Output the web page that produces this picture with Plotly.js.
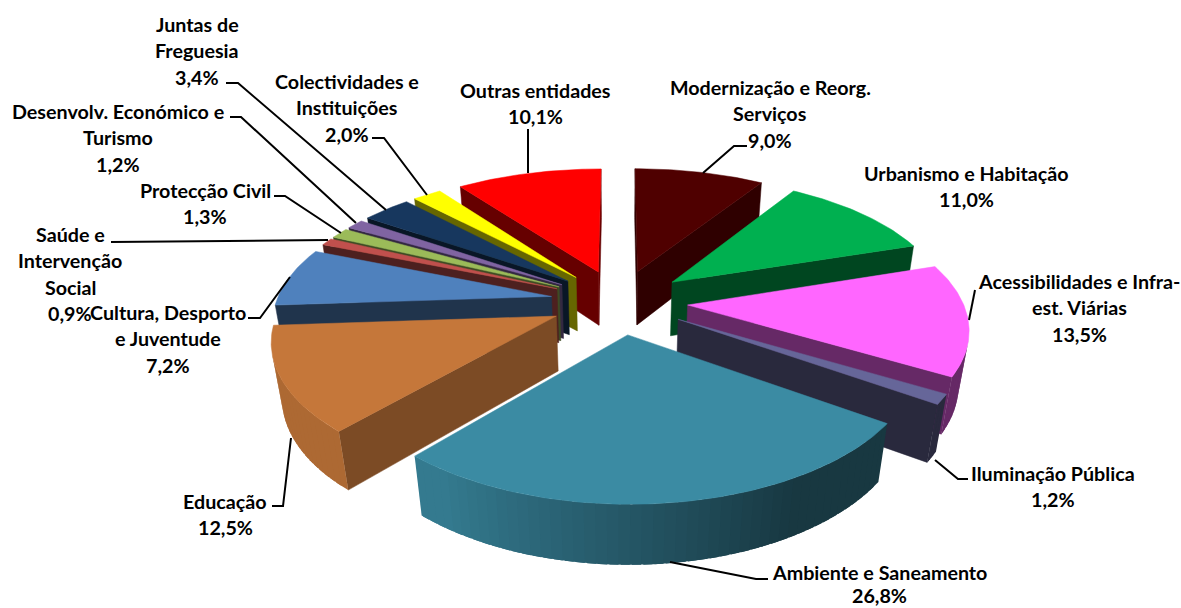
<!DOCTYPE html>
<html><head><meta charset="utf-8">
<script src="https://cdn.plot.ly/plotly-3.0.1.min.js"></script>
<style>html,body{margin:0;padding:0;background:#fff}#c{width:1181px;height:608px}</style>
</head><body><div id="c"></div>
<script>
// ---- data ----
const labelLines = [
 ["Modernização e Reorg.","Serviços"],
 ["Urbanismo e Habitação"],
 ["Acessibilidades e Infra-","est. Viárias"],
 ["Iluminação Pública"],
 ["Ambiente e Saneamento"],
 ["Educação"],
 ["Cultura, Desporto","e Juventude"],
 ["Saúde e","Intervenção","Social"],
 ["Protecção Civil"],
 ["Desenvolv. Económico e","Turismo"],
 ["Juntas de","Freguesia"],
 ["Colectividades e","Instituições"],
 ["Outras entidades"]
];
const values = [9.0,11.0,13.5,1.2,26.8,12.5,7.2,0.9,1.3,1.2,3.4,2.0,10.1];
// ---- styles ----
const colors = ["#4f0000","#00b050","#ff66ff","#666699","#3b8ba3","#c5773a","#4f81bd","#c0504d","#9bbb59","#8064a2","#17375e","#ffff00","#ff0000"];
const wallShade = [0.6,0.4,0.4,0.4,0.4,0.63,0.4,0.4,0.4,0.4,0.4,0.4,0.4];
const labelX = [770,966,1079,1053,879,225,168,70,205,118,197,347,535];
const labelY = [87,173,281,473,572,501,312,234,190,111,24,81,90];
const labelStep = 26.5;
const labelMaxY = 595;
const leaders = [
 [[747,146],[734,146],[703,173]],
 [],
 [[975,290],[969,320]],
 [[968,479],[958,479],[935,460]],
 [[768,579],[756,579],[670,562]],
 [[272,506],[283,506],[291,438]],
 [[248,318],[260,318],[290,277]],
 [[111,242],[328,240]],
 [[274,196],[285,196],[341,233]],
 [[230,117],[241,117],[356,223]],
 [[226,83],[238,83],[386,210]],
 [[372,138],[384,138],[427,195]],
 [[528,129],[528,173]]
];
// projection of the exploded pie
const CX=619, CY=301.5, A=275, B=129, D=56, K=0.165, KX=0.155, M=0.03, E=0.25;
function P(X,Y,Z){return [CX+A*X/(1+KX*Y+M*Z), CY+(-B*Y+D*Z)/(1+K*Y+M*Z)];}
function shade(hex,f){const n=parseInt(hex.slice(1),16);
 const c=[n>>16&255,n>>8&255,n&255].map(v=>Math.round(v*f));
 return `rgb(${c[0]},${c[1]},${c[2]})`;}
const traces=[];
function poly(pts,color,lw){
 const x=pts.map(p=>p[0]),y=pts.map(p=>p[1]);x.push(x[0]);y.push(y[0]);
 traces.push({type:'scatter',mode:'lines',x,y,fill:'toself',fillcolor:color,
  line:{color,width:lw},hoverinfo:'skip',showlegend:false});
}
function area(pts){let s=0;for(let i=0;i<pts.length;i++){const a=pts[i],b=pts[(i+1)%pts.length];s+=a[0]*b[1]-b[0]*a[1];}return s;}
const total=values.reduce((a,b)=>a+b,0);
let cum=0;const slices=values.map((v,i)=>{const a0=cum/total*2*Math.PI;cum+=v;const a1=cum/total*2*Math.PI;return {i,a0,a1,mid:(a0+a1)/2};});
const order=slices.slice().sort((p,q)=>Math.cos(q.mid)-Math.cos(p.mid));
function outerShade(a){const d=a*180/Math.PI;return Math.max(0.4,Math.min(0.88,0.4+(d-150)/(215-150)*0.48));}
order.forEach(s=>{
 const col=colors[s.i], ox=E*Math.sin(s.mid), oy=E*Math.cos(s.mid), ws=wallShade[s.i];
 const pt=(a,z)=>P(ox+Math.sin(a),oy+Math.cos(a),z);
 const ap=z=>P(ox,oy,z);
 const w0=[ap(0),ap(1),pt(s.a0,1),pt(s.a0,0)];
 if(area(w0)>0) poly(w0,shade(col,ws),0.5);
 const w1=[ap(0),pt(s.a1,0),pt(s.a1,1),ap(1)];
 if(area(w1)>0) poly(w1,shade(col,ws),0.5);
 const n=Math.max(2,Math.ceil((s.a1-s.a0)/(2*Math.PI/180)));
 const da=(s.a1-s.a0)/n;
 for(let j=0;j<n;j++){
  const a=s.a0+da*j,b=s.a0+da*(j+1),bb=Math.min(s.a1,b+da*0.8);
  const q=[pt(a,0),pt(bb,0),pt(bb,1),pt(a,1)];
  if(area(q)<0) poly(q,shade(col,outerShade((a+b)/2)),0);
 }
 const top=[ap(0)];for(let j=0;j<=n*2;j++){top.push(pt(s.a0+(s.a1-s.a0)*j/(n*2),0));}
 poly(top,col,0.5);
});
// leader lines
leaders.forEach(l=>{ if(l.length) traces.push({type:'scatter',mode:'lines',x:l.map(p=>p[0]),y:l.map(p=>p[1]),
  line:{color:'#000',width:2},hoverinfo:'skip',showlegend:false});});
// labels
const annotations=[];
const pct=v=>v.toFixed(1).replace('.',',')+'%';
labelLines.forEach((lines,i)=>{
 lines.concat([pct(values[i])]).forEach((t,j)=>{
  annotations.push({x:labelX[i],y:Math.min(labelMaxY,labelY[i]+j*labelStep),xref:'x',yref:'y',text:t,showarrow:false,
   xanchor:'center',yanchor:'middle',font:{family:'Lato, sans-serif',size:19.7,color:'#000',weight:700}});
 });
});
Plotly.newPlot('c',traces,{
 width:1181,height:608,margin:{l:0,r:0,t:0,b:0},paper_bgcolor:'#fff',plot_bgcolor:'#fff',showlegend:false,
 xaxis:{range:[0,1181],visible:false,fixedrange:true},
 yaxis:{range:[608,0],visible:false,fixedrange:true},
 annotations
},{displayModeBar:false,staticPlot:true});
</script></body></html>
